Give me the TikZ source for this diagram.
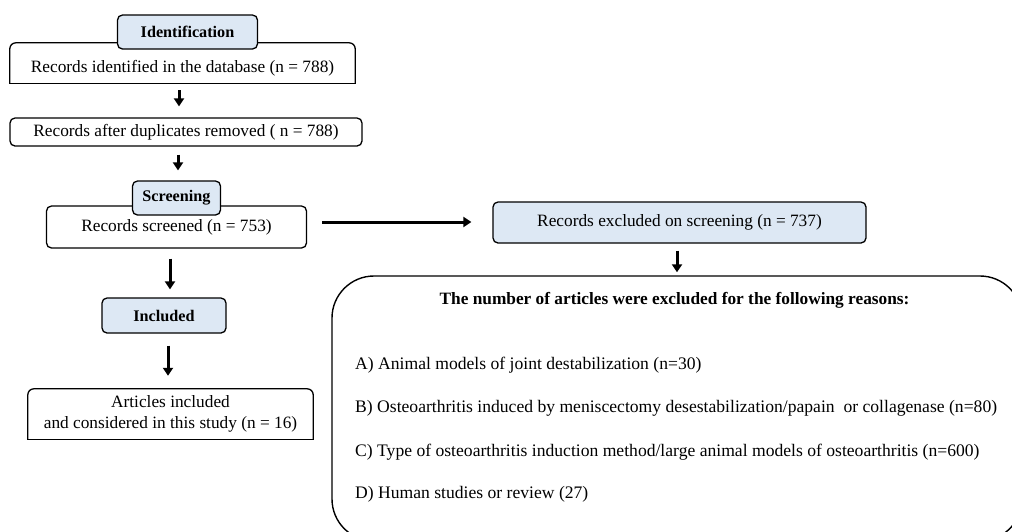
\documentclass[tikz,border=0pt]{standalone}
\usepackage{fontspec}
\setmainfont{Liberation Serif}
\usetikzlibrary{arrows.meta,calc}
\definecolor{tabblue}{RGB}{221,232,244}
\tikzset{
  box/.style={draw=black, line width=1.3pt, rounded corners=5pt, inner sep=0pt, font=\fontsize{17.3}{20.5}\selectfont},
  plain/.style={inner sep=0pt, font=\fontsize{17.3}{20.5}\selectfont},
  tab/.style={box, fill=tabblue, font=\fontsize{16.2}{18}\selectfont\bfseries},
  arr/.style={line width=3pt, -{Triangle[width=10pt,length=8pt]}},
  item/.style={anchor=west, inner sep=0pt, font=\fontsize{17.6}{20}\selectfont},
}
\begin{document}
\begin{tikzpicture}[x=1pt,y=-1pt]
\useasboundingbox (0,0) rectangle (1012,531);
\clip (0,0) rectangle (1012,531);
% left column
\node[plain, minimum width=345pt, minimum height=40pt, text depth=0pt, text height=18pt] (rec1) at (182.5,63) {Records identified in the database (n = 788)};
\draw[line width=1.3pt, rounded corners=6pt] (rec1.south west) -- (rec1.north west) -- (rec1.north east) -- (rec1.south east);
\draw[line width=1.3pt, line cap=rect] (rec1.south west) -- (rec1.south east);
\node[tab, minimum width=140pt, minimum height=34pt] (id) at (187.5,32) {Identification};
\node[box, minimum width=352pt, minimum height=28pt] (rec2) at (186,132) {Records after duplicates removed ( n = 788)};
\node[box, minimum width=260pt, minimum height=42pt] (rec3) at (176.5,227) {Records screened (n = 753)};
\node[tab, minimum width=88pt, minimum height=34pt] (scr) at (176.5,198) {Screening};
\node[tab, minimum width=124pt, minimum height=35pt] (inc) at (164,315.5) {Included};
\node[plain, minimum width=285pt, minimum height=50pt, align=center] (art) at (170.5,414) {Articles included\\and considered in this study (n = 16)};
\draw[line width=1.3pt, rounded corners=6pt] (art.south west) -- (art.north west) -- (art.north east) -- (art.south east);
\draw[line width=1.3pt, line cap=rect] (art.south west) -- (art.south east);
% right column
\node[box, fill=tabblue, minimum width=373pt, minimum height=41pt] (excl) at (679.5,222.5) {Records excluded on screening (n = 737)};
\node[draw=black, line width=1.4pt, rounded corners=42pt, minimum width=690pt, minimum height=265pt, inner sep=0pt] (big) at (677,408.5) {};
\node[inner sep=0pt, font=\fontsize{17.3}{20}\selectfont\bfseries] (title) at (674.5,300) {The number of articles were excluded for the following reasons:};
\node[item] (ia) at (355,365) {A) Animal models of joint destabilization (n=30)};
\node[item] (ib) at (355,408) {B) Osteoarthritis induced by meniscectomy desestabilization/papain\ \ or collagenase (n=80)};
\node[item] (ic) at (355,452) {C) Type of osteoarthritis induction method/large animal models of osteoarthritis (n=600)};
\node[item] (id2) at (355,494) {D) Human studies or review (27)};
% arrows
\draw[arr] ($(rec1.south)+(-3.5,7)$) -- ($(rec2.north)+(-7,-11)$);
\draw[arr] ($(rec2.south)+(-8,8)$) -- ($(scr.north)+(1.5,-10)$);
\draw[arr] ($(rec3.east)+(15,-5)$) -- ($(excl.west)+(-21,-0.5)$);
\draw[arr] ($(excl.south)+(-2.5,7)$) -- ($(big.north)+(0,-3)$);
\draw[arr] ($(rec3.south)+(-6.5,10)$) -- ($(inc.north)+(6,-8)$);
\draw[arr] ($(inc.south)+(4,12)$) -- ($(art.north)+(-2.5,-13)$);
\end{tikzpicture}
\end{document}
